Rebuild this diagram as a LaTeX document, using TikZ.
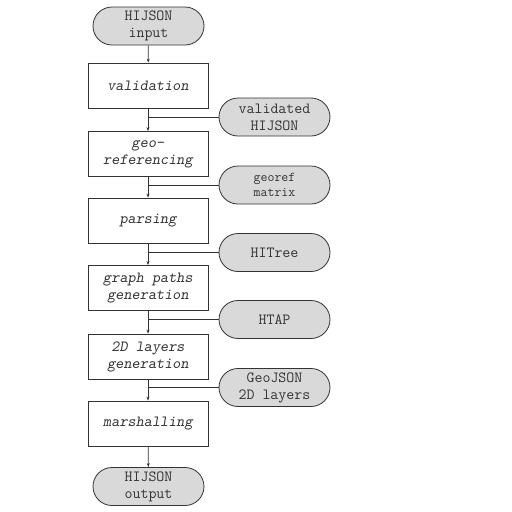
\documentclass[tikz,border=0pt]{standalone}
\usetikzlibrary{shapes.misc,arrows.meta}
\definecolor{inkgray}{HTML}{333333}
\definecolor{termfill}{HTML}{D9D9D9}
\tikzset{
  process/.style={draw=inkgray,thick,fill=white,minimum width=120pt,minimum height=45pt,
    inner sep=1pt,align=center,text=inkgray,font=\fontsize{15.5}{17}\selectfont\ttfamily\slshape},
  data/.style={rounded rectangle,draw=inkgray,thick,fill=termfill,minimum width=113pt,minimum height=38pt,
    inner sep=1pt,align=center,text=inkgray,font=\fontsize{15.5}{17}\selectfont\ttfamily},
  flow/.style={-{Stealth[length=4pt,width=3pt]},draw=inkgray,thick},
  sideline/.style={draw=inkgray,thick}
}
\begin{document}
\begin{tikzpicture}[x=1pt,y=-1pt]
  \useasboundingbox (0,0) rectangle (512,512);
  \draw
    (148.5,26) node[data] (in){HIJSON\\input}
    (148,85.5) node[process] (valid){validation}
    (148,154) node[process] (georef){geo-\\referencing}
    (148,220.5) node[process] (parse){parsing}
    (148,288) node[process] (paths){graph paths\\generation}
    (148,356.5) node[process] (layers){2D layers\\generation}
    (148,423.5) node[process] (marsh){marshalling}
    (148.5,486.5) node[data] (out){HIJSON\\output};
  \draw
    (274.5,117) node[data] (vhij){validated\\HIJSON}
    (274.5,185) node[data,font=\fontsize{13.5}{15}\selectfont\ttfamily] (matrix){georef\\matrix}
    (274.5,252.5) node[data] (tree){HITree}
    (274.5,319.5) node[data] (htap){HTAP}
    (274.5,387.5) node[data] (geojson){GeoJSON\\2D layers};
  \begin{scope}[flow]
    \draw (in) to (valid);
    \draw (valid) to (georef);
    \draw (georef) to (parse);
    \draw (parse) to (paths);
    \draw (paths) to (layers);
    \draw (layers) to (marsh);
    \draw (marsh) to (out);
  \end{scope}
  \begin{scope}[sideline]
    \draw (vhij.west) -- (vhij.west -| valid.south);
    \draw (matrix.west) -- (matrix.west -| georef.south);
    \draw (tree.west) -- (tree.west -| parse.south);
    \draw (htap.west) -- (htap.west -| paths.south);
    \draw (geojson.west) -- (geojson.west -| layers.south);
  \end{scope}
\end{tikzpicture}
\end{document}
